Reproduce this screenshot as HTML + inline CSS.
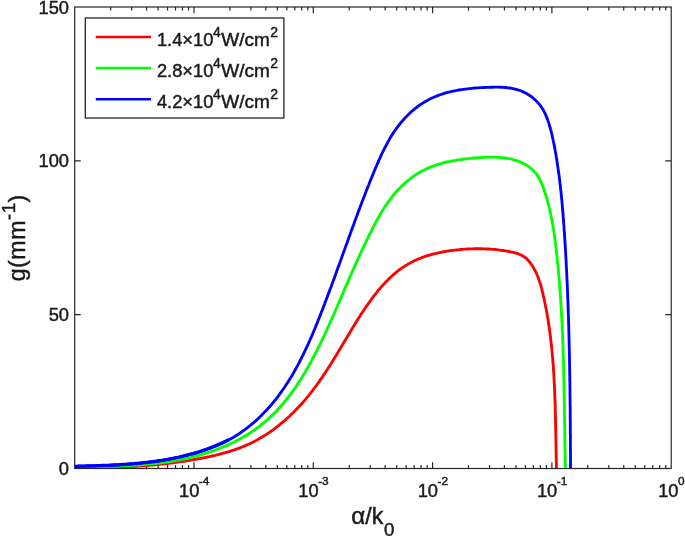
<!DOCTYPE html>
<html><head><meta charset="utf-8"><title>g vs α/k0</title>
<style>
html,body{margin:0;padding:0;background:#fff;}
body{width:685px;height:536px;overflow:hidden;}
svg{display:block;font-family:"Liberation Sans",Arial,Helvetica,sans-serif;}
</style></head><body>
<svg width="685" height="536" viewBox="0 0 685 536">
<rect width="685" height="536" fill="#fff"/>
<g stroke="#262626" stroke-width="1.2" fill="none">
<rect x="74.7" y="7.0" width="596.50" height="461.50"/>
<path d="M110.61,468.5 v-3.5 M110.61,7.0 v3.5"/><path d="M131.62,468.5 v-3.5 M131.62,7.0 v3.5"/><path d="M146.53,468.5 v-3.5 M146.53,7.0 v3.5"/><path d="M158.09,468.5 v-3.5 M158.09,7.0 v3.5"/><path d="M167.53,468.5 v-3.5 M167.53,7.0 v3.5"/><path d="M175.52,468.5 v-3.5 M175.52,7.0 v3.5"/><path d="M182.44,468.5 v-3.5 M182.44,7.0 v3.5"/><path d="M188.54,468.5 v-3.5 M188.54,7.0 v3.5"/><path d="M194.00,468.5 v-6.3 M194.00,7.0 v6.3"/><path d="M229.91,468.5 v-3.5 M229.91,7.0 v3.5"/><path d="M250.92,468.5 v-3.5 M250.92,7.0 v3.5"/><path d="M265.83,468.5 v-3.5 M265.83,7.0 v3.5"/><path d="M277.39,468.5 v-3.5 M277.39,7.0 v3.5"/><path d="M286.83,468.5 v-3.5 M286.83,7.0 v3.5"/><path d="M294.82,468.5 v-3.5 M294.82,7.0 v3.5"/><path d="M301.74,468.5 v-3.5 M301.74,7.0 v3.5"/><path d="M307.84,468.5 v-3.5 M307.84,7.0 v3.5"/><path d="M313.30,468.5 v-6.3 M313.30,7.0 v6.3"/><path d="M349.21,468.5 v-3.5 M349.21,7.0 v3.5"/><path d="M370.22,468.5 v-3.5 M370.22,7.0 v3.5"/><path d="M385.13,468.5 v-3.5 M385.13,7.0 v3.5"/><path d="M396.69,468.5 v-3.5 M396.69,7.0 v3.5"/><path d="M406.13,468.5 v-3.5 M406.13,7.0 v3.5"/><path d="M414.12,468.5 v-3.5 M414.12,7.0 v3.5"/><path d="M421.04,468.5 v-3.5 M421.04,7.0 v3.5"/><path d="M427.14,468.5 v-3.5 M427.14,7.0 v3.5"/><path d="M432.60,468.5 v-6.3 M432.60,7.0 v6.3"/><path d="M468.51,468.5 v-3.5 M468.51,7.0 v3.5"/><path d="M489.52,468.5 v-3.5 M489.52,7.0 v3.5"/><path d="M504.43,468.5 v-3.5 M504.43,7.0 v3.5"/><path d="M515.99,468.5 v-3.5 M515.99,7.0 v3.5"/><path d="M525.43,468.5 v-3.5 M525.43,7.0 v3.5"/><path d="M533.42,468.5 v-3.5 M533.42,7.0 v3.5"/><path d="M540.34,468.5 v-3.5 M540.34,7.0 v3.5"/><path d="M546.44,468.5 v-3.5 M546.44,7.0 v3.5"/><path d="M551.90,468.5 v-6.3 M551.90,7.0 v6.3"/><path d="M587.81,468.5 v-3.5 M587.81,7.0 v3.5"/><path d="M608.82,468.5 v-3.5 M608.82,7.0 v3.5"/><path d="M623.73,468.5 v-3.5 M623.73,7.0 v3.5"/><path d="M635.29,468.5 v-3.5 M635.29,7.0 v3.5"/><path d="M644.73,468.5 v-3.5 M644.73,7.0 v3.5"/><path d="M652.72,468.5 v-3.5 M652.72,7.0 v3.5"/><path d="M659.64,468.5 v-3.5 M659.64,7.0 v3.5"/><path d="M665.74,468.5 v-3.5 M665.74,7.0 v3.5"/><path d="M74.7,314.67 h6 M671.2,314.67 h-6"/><path d="M74.7,160.83 h6 M671.2,160.83 h-6"/>
</g>
<clipPath id="c"><rect x="74.7" y="7.0" width="596.50" height="461.00"/></clipPath>
<g fill="none" stroke-width="2.85" stroke-linejoin="round" clip-path="url(#c)">
<path d="M74.6,467.0 L76.2,467.0 L77.7,467.1 L79.2,467.1 L80.8,467.2 L82.3,467.2 L83.9,467.3 L85.4,467.3 L86.9,467.3 L88.4,467.4 L90.0,467.4 L91.5,467.4 L93.0,467.4 L94.6,467.4 L96.1,467.4 L97.6,467.4 L99.1,467.4 L100.7,467.4 L102.2,467.4 L103.7,467.4 L105.2,467.4 L106.7,467.4 L108.3,467.4 L109.8,467.4 L111.3,467.3 L112.8,467.3 L114.3,467.3 L115.9,467.2 L117.4,467.2 L118.9,467.1 L120.4,467.1 L121.9,467.0 L123.4,467.0 L124.9,466.9 L126.4,466.9 L128.0,466.8 L129.5,466.7 L131.0,466.6 L132.5,466.5 L134.0,466.5 L135.5,466.4 L137.0,466.3 L138.5,466.2 L140.0,466.1 L141.5,466.0 L143.0,465.9 L144.5,465.7 L146.0,465.6 L147.6,465.5 L149.1,465.4 L150.6,465.2 L152.1,465.1 L153.6,465.0 L155.1,464.8 L156.6,464.7 L158.1,464.5 L159.6,464.4 L161.1,464.2 L162.6,464.0 L164.1,463.9 L165.6,463.7 L167.1,463.5 L168.6,463.3 L170.1,463.1 L171.6,463.0 L173.1,462.8 L174.6,462.6 L176.1,462.4 L177.6,462.1 L179.1,461.9 L180.6,461.7 L182.1,461.5 L183.6,461.3 L185.1,461.0 L186.7,460.8 L188.2,460.6 L189.7,460.3 L191.2,460.1 L192.7,459.8 L194.2,459.5 L195.7,459.3 L197.2,459.0 L198.7,458.7 L200.2,458.5 L201.7,458.2 L203.2,457.9 L204.7,457.6 L206.2,457.3 L207.7,457.0 L209.2,456.7 L210.7,456.3 L212.2,456.0 L213.7,455.6 L215.2,455.3 L216.7,454.9 L218.2,454.6 L219.7,454.2 L221.1,453.8 L222.6,453.4 L224.1,453.0 L225.6,452.6 L227.0,452.2 L228.5,451.7 L229.9,451.3 L231.4,450.8 L232.8,450.3 L234.3,449.9 L235.7,449.4 L237.1,448.9 L238.6,448.3 L240.0,447.8 L241.4,447.3 L242.8,446.7 L244.2,446.1 L245.6,445.5 L247.0,444.9 L248.4,444.3 L249.7,443.7 L251.1,443.0 L252.5,442.4 L253.8,441.7 L255.2,441.0 L256.5,440.3 L257.8,439.6 L259.1,438.8 L260.4,438.1 L261.7,437.3 L263.0,436.5 L264.3,435.7 L265.6,434.9 L266.9,434.1 L268.1,433.2 L269.4,432.4 L270.7,431.5 L271.9,430.7 L273.1,429.8 L274.3,428.9 L275.6,428.0 L276.8,427.0 L278.0,426.1 L279.2,425.1 L280.3,424.2 L281.5,423.2 L282.7,422.2 L283.8,421.3 L285.0,420.3 L286.1,419.2 L287.3,418.2 L288.4,417.2 L289.5,416.2 L290.6,415.1 L291.7,414.0 L292.8,413.0 L293.9,411.9 L295.0,410.8 L296.0,409.7 L297.1,408.6 L298.2,407.5 L299.2,406.4 L300.2,405.3 L301.3,404.2 L302.3,403.0 L303.3,401.9 L304.3,400.7 L305.3,399.6 L306.3,398.4 L307.2,397.2 L308.2,396.1 L309.2,394.9 L310.1,393.7 L311.1,392.5 L312.0,391.3 L312.9,390.1 L313.8,388.9 L314.7,387.7 L315.6,386.5 L316.5,385.3 L317.4,384.0 L318.3,382.8 L319.2,381.6 L320.0,380.4 L320.9,379.1 L321.7,377.9 L322.6,376.6 L323.4,375.4 L324.3,374.1 L325.1,372.9 L325.9,371.6 L326.8,370.3 L327.6,369.1 L328.4,367.8 L329.2,366.5 L330.0,365.3 L330.8,364.0 L331.6,362.7 L332.4,361.4 L333.2,360.1 L334.0,358.9 L334.8,357.6 L335.6,356.3 L336.4,355.0 L337.1,353.7 L337.9,352.4 L338.7,351.1 L339.5,349.8 L340.3,348.5 L341.0,347.2 L341.8,345.9 L342.6,344.6 L343.4,343.3 L344.1,342.0 L344.9,340.7 L345.7,339.4 L346.5,338.1 L347.3,336.8 L348.0,335.5 L348.8,334.2 L349.6,332.9 L350.4,331.5 L351.2,330.2 L352.0,328.9 L352.8,327.6 L353.6,326.3 L354.4,325.0 L355.2,323.7 L356.0,322.4 L356.8,321.1 L357.6,319.8 L358.4,318.5 L359.2,317.2 L360.1,315.9 L360.9,314.6 L361.7,313.3 L362.6,312.1 L363.4,310.8 L364.3,309.5 L365.1,308.2 L366.0,306.9 L366.9,305.7 L367.8,304.4 L368.7,303.1 L369.6,301.9 L370.5,300.6 L371.4,299.4 L372.3,298.1 L373.2,296.9 L374.1,295.7 L375.1,294.5 L376.0,293.3 L377.0,292.1 L377.9,290.9 L378.9,289.7 L379.9,288.5 L380.9,287.4 L381.9,286.2 L382.9,285.1 L383.9,284.0 L385.0,282.9 L386.0,281.8 L387.1,280.7 L388.1,279.6 L389.2,278.6 L390.3,277.5 L391.4,276.5 L392.5,275.5 L393.6,274.5 L394.8,273.6 L395.9,272.6 L397.1,271.7 L398.2,270.7 L399.4,269.8 L400.6,269.0 L401.8,268.1 L403.1,267.3 L404.3,266.4 L405.6,265.6 L406.8,264.9 L408.1,264.1 L409.4,263.4 L410.7,262.6 L412.0,262.0 L413.4,261.3 L414.7,260.6 L416.1,260.0 L417.5,259.4 L418.9,258.8 L420.3,258.3 L421.7,257.7 L423.1,257.2 L424.5,256.7 L426.0,256.2 L427.4,255.7 L428.9,255.3 L430.4,254.9 L431.8,254.4 L433.3,254.0 L434.8,253.7 L436.3,253.3 L437.8,253.0 L439.3,252.6 L440.8,252.3 L442.3,252.0 L443.9,251.7 L445.4,251.5 L446.9,251.2 L448.4,251.0 L450.0,250.7 L451.5,250.5 L453.0,250.3 L454.5,250.1 L456.1,250.0 L457.6,249.8 L459.1,249.6 L460.7,249.5 L462.2,249.4 L463.7,249.2 L465.2,249.1 L466.7,249.0 L468.3,249.0 L469.8,248.9 L471.3,248.8 L472.8,248.8 L474.3,248.7 L475.8,248.7 L477.3,248.7 L478.8,248.7 L480.3,248.7 L481.8,248.7 L483.3,248.8 L484.8,248.8 L486.3,248.9 L487.8,249.0 L489.3,249.0 L490.8,249.2 L492.3,249.3 L493.8,249.4 L495.3,249.5 L496.8,249.7 L498.3,249.9 L499.8,250.1 L501.3,250.3 L502.8,250.5 L504.3,250.7 L505.8,251.0 L507.3,251.2 L508.9,251.5 L510.4,251.8 L511.9,252.1 L513.4,252.4 L514.9,252.8 L516.3,253.2 L517.8,253.7 L519.2,254.2 L520.6,254.8 L521.9,255.4 L523.2,256.2 L524.5,257.0 L525.7,257.9 L526.8,258.9 L527.9,260.0 L528.9,261.1 L529.9,262.4 L530.8,263.6 L531.7,264.9 L532.6,266.2 L533.4,267.5 L534.1,268.9 L534.9,270.2 L535.6,271.6 L536.2,272.9 L536.8,274.3 L537.4,275.7 L538.0,277.1 L538.5,278.5 L539.0,280.0 L539.5,281.4 L540.0,282.9 L540.4,284.3 L540.9,285.8 L541.3,287.2 L541.7,288.7 L542.0,290.2 L542.4,291.6 L542.8,293.1 L543.1,294.6 L543.4,296.1 L543.8,297.6 L544.1,299.0 L544.4,300.5 L544.7,302.0 L545.0,303.5 L545.3,305.0 L545.6,306.5 L545.9,308.0 L546.2,309.5 L546.5,311.0 L546.8,312.4 L547.0,313.9 L547.3,315.4 L547.5,316.9 L547.8,318.4 L548.0,319.9 L548.3,321.4 L548.5,322.9 L548.7,324.4 L549.0,325.9 L549.2,327.4 L549.4,328.9 L549.6,330.4 L549.8,331.9 L550.0,333.4 L550.2,334.9 L550.4,336.4 L550.6,338.0 L550.7,339.5 L550.9,341.0 L551.1,342.5 L551.3,344.0 L551.4,345.5 L551.6,347.0 L551.7,348.5 L551.9,350.0 L552.0,351.5 L552.2,353.1 L552.3,354.6 L552.4,356.1 L552.6,357.6 L552.7,359.1 L552.8,360.6 L552.9,362.1 L553.1,363.7 L553.2,365.2 L553.3,366.7 L553.4,368.2 L553.5,369.7 L553.6,371.2 L553.7,372.8 L553.8,374.3 L553.9,375.8 L554.0,377.3 L554.0,378.8 L554.1,380.4 L554.2,381.9 L554.3,383.4 L554.4,384.9 L554.4,386.4 L554.5,388.0 L554.6,389.5 L554.6,391.0 L554.7,392.5 L554.7,394.0 L554.8,395.6 L554.9,397.1 L554.9,398.6 L555.0,400.1 L555.0,401.7 L555.1,403.2 L555.1,404.7 L555.2,406.2 L555.2,407.7 L555.2,409.3 L555.3,410.8 L555.3,412.3 L555.4,413.8 L555.4,415.4 L555.4,416.9 L555.5,418.4 L555.5,419.9 L555.5,421.4 L555.6,423.0 L555.6,424.5 L555.6,426.0 L555.7,427.5 L555.7,429.1 L555.7,430.6 L555.8,432.1 L555.8,433.6 L555.8,435.1 L555.8,436.7 L555.9,438.2 L555.9,439.7 L555.9,441.2 L556.0,442.7 L556.0,444.2 L556.0,445.8 L556.0,447.3 L556.1,448.8 L556.1,450.3 L556.1,451.8 L556.1,453.3 L556.2,454.9 L556.2,456.4 L556.2,457.9 L556.3,459.4 L556.3,460.9 L556.3,462.4 L556.4,463.9 L556.4,465.4 L556.4,466.9 L556.5,468.5" stroke="#f00"/>
<path d="M74.7,466.9 L76.6,466.9 L78.4,466.8 L80.2,466.8 L82.1,466.8 L83.9,466.8 L85.7,466.8 L87.5,466.8 L89.4,466.7 L91.2,466.7 L93.1,466.7 L94.9,466.7 L96.7,466.6 L98.6,466.6 L100.4,466.6 L102.3,466.5 L104.1,466.5 L106.0,466.5 L107.8,466.4 L109.6,466.4 L111.5,466.3 L113.3,466.3 L115.2,466.2 L117.0,466.2 L118.9,466.1 L120.7,466.0 L122.6,465.9 L124.4,465.9 L126.3,465.8 L128.1,465.7 L129.9,465.6 L131.8,465.5 L133.6,465.4 L135.5,465.3 L137.3,465.1 L139.2,465.0 L141.0,464.9 L142.9,464.7 L144.7,464.6 L146.5,464.4 L148.4,464.2 L150.2,464.0 L152.0,463.9 L153.9,463.7 L155.7,463.5 L157.5,463.2 L159.4,463.0 L161.2,462.8 L163.0,462.5 L164.8,462.3 L166.7,462.0 L168.5,461.8 L170.3,461.5 L172.1,461.2 L173.9,460.9 L175.7,460.5 L177.6,460.2 L179.4,459.9 L181.2,459.5 L183.0,459.2 L184.8,458.8 L186.6,458.4 L188.4,458.0 L190.2,457.6 L191.9,457.1 L193.7,456.7 L195.5,456.2 L197.3,455.7 L199.1,455.3 L200.8,454.8 L202.6,454.2 L204.4,453.7 L206.1,453.2 L207.9,452.6 L209.6,452.0 L211.4,451.4 L213.1,450.8 L214.9,450.2 L216.6,449.5 L218.3,448.9 L220.1,448.2 L221.8,447.5 L223.5,446.8 L225.2,446.1 L226.9,445.4 L228.6,444.6 L230.2,443.8 L231.9,443.0 L233.6,442.2 L235.2,441.4 L236.9,440.6 L238.5,439.7 L240.1,438.8 L241.7,437.9 L243.3,437.0 L244.9,436.1 L246.5,435.2 L248.0,434.2 L249.6,433.2 L251.1,432.2 L252.6,431.2 L254.2,430.2 L255.7,429.1 L257.1,428.0 L258.6,427.0 L260.1,425.9 L261.5,424.7 L262.9,423.6 L264.3,422.4 L265.7,421.2 L267.1,420.0 L268.4,418.8 L269.8,417.6 L271.1,416.3 L272.4,415.1 L273.7,413.8 L275.0,412.5 L276.3,411.2 L277.5,409.8 L278.8,408.5 L280.0,407.1 L281.2,405.7 L282.4,404.4 L283.6,403.0 L284.7,401.5 L285.9,400.1 L287.1,398.7 L288.2,397.2 L289.3,395.8 L290.4,394.3 L291.5,392.8 L292.6,391.3 L293.7,389.8 L294.7,388.3 L295.8,386.8 L296.8,385.2 L297.9,383.7 L298.9,382.1 L299.9,380.6 L300.9,379.0 L301.9,377.4 L302.8,375.8 L303.8,374.3 L304.8,372.7 L305.7,371.1 L306.6,369.5 L307.6,367.9 L308.5,366.2 L309.4,364.6 L310.3,363.0 L311.2,361.4 L312.1,359.7 L312.9,358.1 L313.8,356.5 L314.7,354.8 L315.5,353.2 L316.4,351.6 L317.2,349.9 L318.0,348.3 L318.8,346.6 L319.7,345.0 L320.5,343.3 L321.3,341.7 L322.1,340.0 L322.9,338.4 L323.7,336.7 L324.4,335.1 L325.2,333.4 L326.0,331.7 L326.8,330.1 L327.5,328.4 L328.3,326.7 L329.0,325.1 L329.8,323.4 L330.5,321.7 L331.3,320.0 L332.0,318.4 L332.8,316.7 L333.5,315.0 L334.2,313.3 L335.0,311.7 L335.7,310.0 L336.4,308.3 L337.2,306.6 L337.9,304.9 L338.6,303.2 L339.3,301.6 L340.1,299.9 L340.8,298.2 L341.5,296.5 L342.2,294.8 L343.0,293.1 L343.7,291.4 L344.4,289.7 L345.1,288.0 L345.9,286.4 L346.6,284.7 L347.3,283.0 L348.0,281.3 L348.8,279.6 L349.5,277.9 L350.2,276.2 L351.0,274.5 L351.7,272.8 L352.5,271.1 L353.2,269.5 L354.0,267.8 L354.7,266.1 L355.5,264.4 L356.2,262.7 L357.0,261.0 L357.8,259.3 L358.5,257.7 L359.3,256.0 L360.1,254.3 L360.8,252.6 L361.6,250.9 L362.4,249.3 L363.2,247.6 L364.0,245.9 L364.8,244.3 L365.6,242.6 L366.4,240.9 L367.2,239.3 L368.0,237.6 L368.8,236.0 L369.6,234.3 L370.5,232.7 L371.3,231.1 L372.1,229.4 L373.0,227.8 L373.8,226.2 L374.7,224.5 L375.5,222.9 L376.4,221.3 L377.3,219.7 L378.1,218.1 L379.0,216.5 L379.9,214.9 L380.9,213.3 L381.8,211.8 L382.7,210.2 L383.7,208.7 L384.7,207.1 L385.7,205.6 L386.7,204.1 L387.7,202.6 L388.8,201.1 L389.9,199.6 L391.0,198.1 L392.1,196.7 L393.3,195.2 L394.5,193.8 L395.7,192.4 L396.9,191.0 L398.2,189.6 L399.5,188.3 L400.8,187.0 L402.2,185.6 L403.6,184.4 L404.9,183.1 L406.4,181.9 L407.8,180.7 L409.3,179.5 L410.7,178.4 L412.2,177.2 L413.7,176.2 L415.3,175.1 L416.8,174.1 L418.4,173.1 L420.0,172.2 L421.6,171.3 L423.2,170.5 L424.8,169.7 L426.4,168.9 L428.1,168.1 L429.7,167.4 L431.4,166.7 L433.1,166.1 L434.8,165.5 L436.5,164.9 L438.2,164.4 L439.9,163.8 L441.7,163.3 L443.4,162.9 L445.2,162.4 L446.9,162.0 L448.7,161.6 L450.5,161.3 L452.3,160.9 L454.1,160.6 L455.9,160.3 L457.7,160.0 L459.6,159.7 L461.4,159.5 L463.2,159.2 L465.1,159.0 L466.9,158.8 L468.8,158.6 L470.7,158.4 L472.5,158.2 L474.4,158.0 L476.3,157.9 L478.2,157.7 L480.1,157.6 L482.0,157.5 L483.8,157.4 L485.7,157.3 L487.6,157.2 L489.5,157.1 L491.4,157.1 L493.3,157.1 L495.1,157.2 L497.0,157.2 L498.8,157.3 L500.7,157.5 L502.5,157.6 L504.3,157.8 L506.1,158.1 L507.9,158.4 L509.7,158.7 L511.5,159.1 L513.2,159.6 L514.9,160.1 L516.6,160.6 L518.3,161.2 L520.0,161.9 L521.6,162.6 L523.2,163.4 L524.8,164.2 L526.3,165.1 L527.8,166.1 L529.3,167.2 L530.8,168.3 L532.1,169.5 L533.4,170.7 L534.7,172.1 L535.9,173.4 L537.0,174.9 L538.0,176.4 L538.9,178.0 L539.8,179.6 L540.6,181.2 L541.4,182.9 L542.1,184.6 L542.8,186.4 L543.4,188.1 L544.1,189.9 L544.6,191.7 L545.2,193.5 L545.8,195.2 L546.3,197.0 L546.9,198.8 L547.4,200.6 L547.9,202.4 L548.3,204.2 L548.8,206.0 L549.2,207.8 L549.7,209.6 L550.1,211.4 L550.5,213.2 L550.9,215.0 L551.2,216.8 L551.6,218.6 L551.9,220.4 L552.3,222.2 L552.6,224.0 L552.9,225.8 L553.2,227.7 L553.5,229.5 L553.8,231.3 L554.1,233.1 L554.4,234.9 L554.6,236.8 L554.9,238.6 L555.1,240.4 L555.3,242.2 L555.6,244.1 L555.8,245.9 L556.0,247.7 L556.2,249.5 L556.4,251.4 L556.6,253.2 L556.8,255.0 L557.0,256.9 L557.2,258.7 L557.4,260.5 L557.6,262.4 L557.8,264.2 L558.0,266.0 L558.1,267.9 L558.3,269.7 L558.5,271.5 L558.6,273.4 L558.8,275.2 L559.0,277.0 L559.1,278.9 L559.3,280.7 L559.4,282.5 L559.6,284.4 L559.7,286.2 L559.8,288.0 L560.0,289.9 L560.1,291.7 L560.2,293.5 L560.4,295.4 L560.5,297.2 L560.6,299.1 L560.7,300.9 L560.9,302.7 L561.0,304.6 L561.1,306.4 L561.2,308.2 L561.3,310.1 L561.4,311.9 L561.5,313.8 L561.6,315.6 L561.7,317.4 L561.8,319.3 L561.9,321.1 L562.0,323.0 L562.1,324.8 L562.2,326.6 L562.2,328.5 L562.3,330.3 L562.4,332.2 L562.5,334.0 L562.6,335.8 L562.6,337.7 L562.7,339.5 L562.8,341.4 L562.8,343.2 L562.9,345.1 L563.0,346.9 L563.0,348.7 L563.1,350.6 L563.1,352.4 L563.2,354.3 L563.3,356.1 L563.3,358.0 L563.4,359.8 L563.4,361.6 L563.5,363.5 L563.5,365.3 L563.6,367.2 L563.6,369.0 L563.7,370.9 L563.7,372.7 L563.8,374.5 L563.8,376.4 L563.8,378.2 L563.9,380.1 L563.9,381.9 L564.0,383.8 L564.0,385.6 L564.0,387.4 L564.1,389.3 L564.1,391.1 L564.1,393.0 L564.2,394.8 L564.2,396.7 L564.2,398.5 L564.3,400.3 L564.3,402.2 L564.3,404.0 L564.4,405.9 L564.4,407.7 L564.4,409.6 L564.4,411.4 L564.5,413.3 L564.5,415.1 L564.5,416.9 L564.6,418.8 L564.6,420.6 L564.6,422.5 L564.6,424.3 L564.7,426.1 L564.7,428.0 L564.7,429.8 L564.8,431.7 L564.8,433.5 L564.8,435.4 L564.8,437.2 L564.9,439.0 L564.9,440.9 L564.9,442.7 L565.0,444.6 L565.0,446.4 L565.0,448.2 L565.0,450.1 L565.1,451.9 L565.1,453.8 L565.1,455.6 L565.2,457.4 L565.2,459.3 L565.2,461.1 L565.3,463.0 L565.3,464.8 L565.4,466.6 L565.4,468.5" stroke="#0f0"/>
<path d="M74.7,466.3 L76.8,466.3 L78.9,466.2 L81.0,466.2 L83.1,466.1 L85.2,466.1 L87.3,466.0 L89.4,466.0 L91.5,465.9 L93.6,465.8 L95.7,465.8 L97.8,465.7 L99.9,465.6 L102.0,465.6 L104.1,465.5 L106.2,465.4 L108.3,465.3 L110.4,465.2 L112.5,465.1 L114.6,465.0 L116.7,464.9 L118.8,464.8 L120.9,464.6 L123.0,464.5 L125.1,464.4 L127.2,464.2 L129.3,464.0 L131.3,463.9 L133.4,463.7 L135.5,463.5 L137.6,463.3 L139.7,463.1 L141.8,462.9 L143.9,462.7 L145.9,462.4 L148.0,462.2 L150.1,461.9 L152.2,461.7 L154.2,461.4 L156.3,461.1 L158.4,460.8 L160.5,460.5 L162.5,460.2 L164.6,459.8 L166.7,459.5 L168.7,459.1 L170.8,458.7 L172.8,458.3 L174.9,457.9 L176.9,457.5 L179.0,457.1 L181.0,456.6 L183.1,456.1 L185.1,455.7 L187.1,455.2 L189.2,454.6 L191.2,454.1 L193.2,453.6 L195.3,453.0 L197.3,452.4 L199.3,451.8 L201.3,451.2 L203.3,450.6 L205.3,449.9 L207.3,449.2 L209.3,448.5 L211.3,447.8 L213.3,447.0 L215.2,446.2 L217.2,445.4 L219.1,444.6 L221.0,443.7 L222.9,442.9 L224.8,441.9 L226.7,441.0 L228.6,440.0 L230.4,439.0 L232.2,438.0 L234.1,436.9 L235.8,435.8 L237.6,434.7 L239.4,433.5 L241.1,432.3 L242.8,431.1 L244.5,429.9 L246.2,428.6 L247.9,427.3 L249.6,426.0 L251.2,424.7 L252.8,423.4 L254.4,422.0 L256.0,420.6 L257.5,419.2 L259.0,417.7 L260.5,416.3 L262.0,414.8 L263.5,413.3 L264.9,411.8 L266.4,410.3 L267.8,408.8 L269.2,407.2 L270.5,405.7 L271.9,404.1 L273.2,402.5 L274.5,400.9 L275.8,399.3 L277.1,397.6 L278.4,396.0 L279.6,394.3 L280.8,392.6 L282.0,390.9 L283.2,389.2 L284.4,387.5 L285.5,385.8 L286.7,384.0 L287.8,382.3 L288.9,380.5 L290.0,378.7 L291.1,377.0 L292.2,375.2 L293.2,373.4 L294.3,371.6 L295.3,369.7 L296.3,367.9 L297.3,366.1 L298.3,364.2 L299.3,362.3 L300.2,360.5 L301.2,358.6 L302.1,356.7 L303.1,354.8 L304.0,352.9 L304.9,351.0 L305.8,349.1 L306.7,347.2 L307.6,345.3 L308.5,343.4 L309.3,341.5 L310.2,339.5 L311.0,337.6 L311.9,335.6 L312.7,333.7 L313.5,331.7 L314.3,329.8 L315.2,327.8 L316.0,325.9 L316.8,323.9 L317.6,322.0 L318.3,320.0 L319.1,318.0 L319.9,316.1 L320.7,314.1 L321.4,312.1 L322.2,310.2 L323.0,308.2 L323.7,306.2 L324.5,304.2 L325.2,302.3 L326.0,300.3 L326.7,298.3 L327.5,296.4 L328.2,294.4 L329.0,292.4 L329.7,290.5 L330.4,288.5 L331.2,286.5 L331.9,284.6 L332.6,282.6 L333.3,280.6 L334.1,278.6 L334.8,276.7 L335.5,274.7 L336.2,272.7 L336.9,270.8 L337.6,268.8 L338.3,266.8 L339.1,264.9 L339.8,262.9 L340.5,260.9 L341.2,259.0 L341.9,257.0 L342.6,255.0 L343.3,253.1 L344.0,251.1 L344.7,249.1 L345.4,247.2 L346.1,245.2 L346.9,243.2 L347.6,241.3 L348.3,239.3 L349.0,237.3 L349.7,235.4 L350.4,233.4 L351.1,231.4 L351.8,229.5 L352.5,227.5 L353.3,225.6 L354.0,223.6 L354.7,221.6 L355.4,219.7 L356.1,217.7 L356.9,215.8 L357.6,213.8 L358.3,211.8 L359.1,209.9 L359.8,207.9 L360.5,206.0 L361.3,204.0 L362.0,202.0 L362.8,200.1 L363.5,198.1 L364.3,196.2 L365.0,194.2 L365.8,192.3 L366.5,190.3 L367.3,188.4 L368.1,186.4 L368.9,184.5 L369.6,182.5 L370.4,180.6 L371.2,178.6 L372.0,176.7 L372.8,174.7 L373.6,172.8 L374.4,170.8 L375.2,168.9 L376.0,167.0 L376.9,165.0 L377.7,163.1 L378.5,161.2 L379.4,159.2 L380.3,157.3 L381.1,155.4 L382.0,153.5 L382.9,151.6 L383.9,149.7 L384.8,147.8 L385.8,146.0 L386.8,144.1 L387.8,142.3 L388.8,140.4 L389.8,138.6 L390.9,136.8 L392.0,135.0 L393.1,133.3 L394.3,131.5 L395.5,129.8 L396.7,128.1 L398.0,126.4 L399.3,124.7 L400.6,123.1 L401.9,121.5 L403.3,119.9 L404.7,118.3 L406.2,116.8 L407.7,115.3 L409.2,113.8 L410.7,112.3 L412.3,110.9 L413.9,109.6 L415.6,108.2 L417.2,107.0 L418.9,105.7 L420.6,104.5 L422.4,103.4 L424.1,102.3 L425.9,101.2 L427.7,100.2 L429.5,99.2 L431.4,98.3 L433.3,97.5 L435.1,96.7 L437.1,95.9 L439.0,95.2 L440.9,94.5 L442.9,93.9 L444.9,93.2 L446.9,92.7 L448.9,92.2 L450.9,91.7 L452.9,91.2 L455.0,90.8 L457.0,90.4 L459.1,90.0 L461.2,89.7 L463.3,89.4 L465.4,89.1 L467.5,88.8 L469.6,88.6 L471.7,88.4 L473.8,88.2 L476.0,88.0 L478.1,87.8 L480.2,87.7 L482.4,87.6 L484.5,87.5 L486.7,87.4 L488.8,87.3 L491.0,87.2 L493.1,87.2 L495.2,87.1 L497.4,87.1 L499.5,87.2 L501.6,87.2 L503.7,87.4 L505.8,87.5 L507.9,87.8 L509.9,88.0 L512.0,88.4 L514.0,88.8 L516.0,89.3 L517.9,89.9 L519.9,90.5 L521.8,91.3 L523.6,92.1 L525.5,93.0 L527.3,94.0 L529.0,95.1 L530.7,96.2 L532.4,97.5 L533.9,98.8 L535.5,100.1 L536.9,101.6 L538.3,103.1 L539.6,104.7 L540.9,106.3 L542.0,108.1 L543.1,109.8 L544.1,111.6 L545.1,113.5 L545.9,115.4 L546.7,117.4 L547.5,119.4 L548.2,121.4 L548.9,123.4 L549.5,125.5 L550.1,127.5 L550.6,129.6 L551.2,131.7 L551.7,133.8 L552.2,135.8 L552.6,137.9 L553.1,140.0 L553.5,142.0 L554.0,144.1 L554.4,146.1 L554.8,148.2 L555.1,150.3 L555.5,152.3 L555.9,154.4 L556.2,156.5 L556.6,158.5 L556.9,160.6 L557.2,162.7 L557.5,164.7 L557.8,166.8 L558.1,168.9 L558.4,171.0 L558.7,173.0 L559.0,175.1 L559.3,177.2 L559.5,179.3 L559.8,181.3 L560.0,183.4 L560.3,185.5 L560.5,187.6 L560.7,189.7 L561.0,191.8 L561.2,193.8 L561.4,195.9 L561.6,198.0 L561.8,200.1 L562.0,202.2 L562.2,204.3 L562.4,206.4 L562.5,208.5 L562.7,210.5 L562.9,212.6 L563.1,214.7 L563.2,216.8 L563.4,218.9 L563.5,221.0 L563.7,223.1 L563.9,225.2 L564.0,227.3 L564.1,229.4 L564.3,231.5 L564.4,233.6 L564.6,235.6 L564.7,237.7 L564.8,239.8 L565.0,241.9 L565.1,244.0 L565.2,246.1 L565.4,248.2 L565.5,250.3 L565.6,252.4 L565.7,254.5 L565.8,256.6 L566.0,258.7 L566.1,260.8 L566.2,262.9 L566.3,265.0 L566.4,267.1 L566.5,269.2 L566.6,271.3 L566.7,273.4 L566.8,275.5 L566.9,277.5 L567.0,279.6 L567.1,281.7 L567.2,283.8 L567.3,285.9 L567.4,288.0 L567.5,290.1 L567.5,292.2 L567.6,294.3 L567.7,296.4 L567.8,298.5 L567.9,300.6 L568.0,302.7 L568.0,304.8 L568.1,306.9 L568.2,309.0 L568.2,311.1 L568.3,313.2 L568.4,315.3 L568.5,317.4 L568.5,319.5 L568.6,321.6 L568.6,323.7 L568.7,325.8 L568.8,327.9 L568.8,330.0 L568.9,332.1 L568.9,334.2 L569.0,336.3 L569.0,338.4 L569.1,340.5 L569.1,342.6 L569.2,344.7 L569.2,346.8 L569.3,348.9 L569.3,351.0 L569.4,353.1 L569.4,355.2 L569.5,357.3 L569.5,359.4 L569.5,361.5 L569.6,363.6 L569.6,365.7 L569.6,367.8 L569.7,369.9 L569.7,372.0 L569.7,374.1 L569.8,376.2 L569.8,378.3 L569.8,380.4 L569.9,382.5 L569.9,384.6 L569.9,386.7 L570.0,388.8 L570.0,390.9 L570.0,393.0 L570.0,395.1 L570.0,397.2 L570.1,399.3 L570.1,401.4 L570.1,403.5 L570.1,405.6 L570.2,407.7 L570.2,409.7 L570.2,411.8 L570.2,413.9 L570.2,416.0 L570.2,418.1 L570.3,420.2 L570.3,422.3 L570.3,424.4 L570.3,426.5 L570.3,428.6 L570.3,430.7 L570.3,432.8 L570.4,434.9 L570.4,437.0 L570.4,439.1 L570.4,441.2 L570.4,443.3 L570.4,445.4 L570.4,447.5 L570.4,449.6 L570.4,451.7 L570.5,453.8 L570.5,455.9 L570.5,458.0 L570.5,460.1 L570.5,462.2 L570.5,464.3 L570.5,466.4 L570.5,468.5" stroke="#00f"/>
<path d="M74.7,466.3 L76.7,466.3 L78.7,466.2 L80.6,466.2 L82.6,466.1 L84.6,466.1 L86.6,466.0 L88.5,465.9 L90.5,465.9 L92.5,465.8 L94.5,465.8 L96.5,465.7 L98.5,465.6 L100.5,465.6 L102.4,465.5 L104.4,465.4 L106.4,465.3 L108.4,465.3 L110.4,465.2 L112.4,465.1 L114.4,465.0 L116.4,464.9 L118.4,464.8 L120.3,464.6 L122.3,464.5 L124.3,464.4 L126.3,464.3 L128.3,464.1 L130.3,464.0 L132.3,463.8 L134.2,463.7 L136.2,463.5 L138.2,463.3 L140.2,463.1 L142.2,462.9 L144.1,462.7 L146.1,462.5 L148.1,462.3 L150.1,462.0 L152.0,461.8 L154.0,461.5 L156.0,461.3 L157.9,461.0 L159.9,460.7 L161.8,460.4 L163.8,460.1 L165.8,459.7 L167.7,459.4 L169.6,459.0 L171.6,458.7 L173.5,458.3 L175.5,457.9 L177.4,457.5 L179.3,457.1 L181.3,456.6 L183.2,456.2 L185.1,455.7 L187.0,455.2 L188.9,454.7 L190.9,454.2 L192.8,453.7 L194.7,453.1 L196.6,452.6 L198.5,452.0 L200.3,451.4 L202.2,450.7 L204.1,450.1 L206.0,449.5 L207.8,448.8 L209.7,448.1 L211.6,447.4 L213.4,446.6 L215.3,445.9 L217.1,445.1 L219.0,444.3 L220.8,443.5 L222.6,442.7 L224.4,441.8 L226.2,440.9 L228.1,440.0" stroke="#00f" stroke-width="3.3" stroke-linecap="round"/>
</g>
<g font-size="18.3" fill="#1a1a1a" stroke="#1a1a1a" stroke-width="0.45">
<text x="69" y="475.1" text-anchor="end">0</text><text x="69" y="321.3" text-anchor="end">50</text><text x="69" y="167.4" text-anchor="end">100</text><text x="69" y="13.6" text-anchor="end">150</text>
<text x="194.2" y="496.8" text-anchor="middle">10<tspan dx="-0.5" dy="-11.7" font-size="11.8">-4</tspan></text><text x="313.5" y="496.8" text-anchor="middle">10<tspan dx="-0.5" dy="-11.7" font-size="11.8">-3</tspan></text><text x="432.8" y="496.8" text-anchor="middle">10<tspan dx="-0.5" dy="-11.7" font-size="11.8">-2</tspan></text><text x="552.1" y="496.8" text-anchor="middle">10<tspan dx="-0.5" dy="-11.7" font-size="11.8">-1</tspan></text><text x="671.4" y="496.8" text-anchor="middle">10<tspan dx="-0.5" dy="-11.7" font-size="11.8">0</tspan></text>
</g>
<rect x="85.3" y="18" width="198.6" height="100" fill="#fff" stroke="#262626" stroke-width="1.3"/>
<g font-size="18.3" fill="#1a1a1a" stroke="#1a1a1a" stroke-width="0.45"><path d="M95.8,37.0 H151" stroke="#f00" stroke-width="2.5" fill="none"/><text x="156.9" y="45.8">1.4×10</text><text x="213.1" y="36.6" font-size="14">4</text><text x="221.2" y="45.8" textLength="48.6" lengthAdjust="spacingAndGlyphs">W/cm</text><text x="270.2" y="36.6" font-size="14">2</text><path d="M95.8,68.1 H151" stroke="#0f0" stroke-width="2.5" fill="none"/><text x="156.9" y="76.9">2.8×10</text><text x="213.1" y="67.7" font-size="14">4</text><text x="221.2" y="76.9" textLength="48.6" lengthAdjust="spacingAndGlyphs">W/cm</text><text x="270.2" y="67.7" font-size="14">2</text><path d="M95.8,99.2 H151" stroke="#00f" stroke-width="2.5" fill="none"/><text x="156.9" y="108.0">4.2×10</text><text x="213.1" y="98.8" font-size="14">4</text><text x="221.2" y="108.0" textLength="48.6" lengthAdjust="spacingAndGlyphs">W/cm</text><text x="270.2" y="98.8" font-size="14">2</text></g>
<text font-size="23.2" fill="#1a1a1a" stroke="#1a1a1a" stroke-width="0.45" x="351.2" y="524.4" textLength="14" lengthAdjust="spacingAndGlyphs">α</text>
<text font-size="23.2" fill="#1a1a1a" stroke="#1a1a1a" stroke-width="0.45" x="365.3" y="524.4">/k<tspan dx="0.6" dy="11.5" font-size="18.6">0</tspan></text>
<text font-size="23.2" fill="#1a1a1a" stroke="#1a1a1a" stroke-width="0.45" letter-spacing="0.5" transform="translate(24.9,281.3) rotate(-90)">g(mm<tspan dy="-10" font-size="18.6">-1</tspan><tspan dy="10">)</tspan></text>
</svg>
</body></html>
